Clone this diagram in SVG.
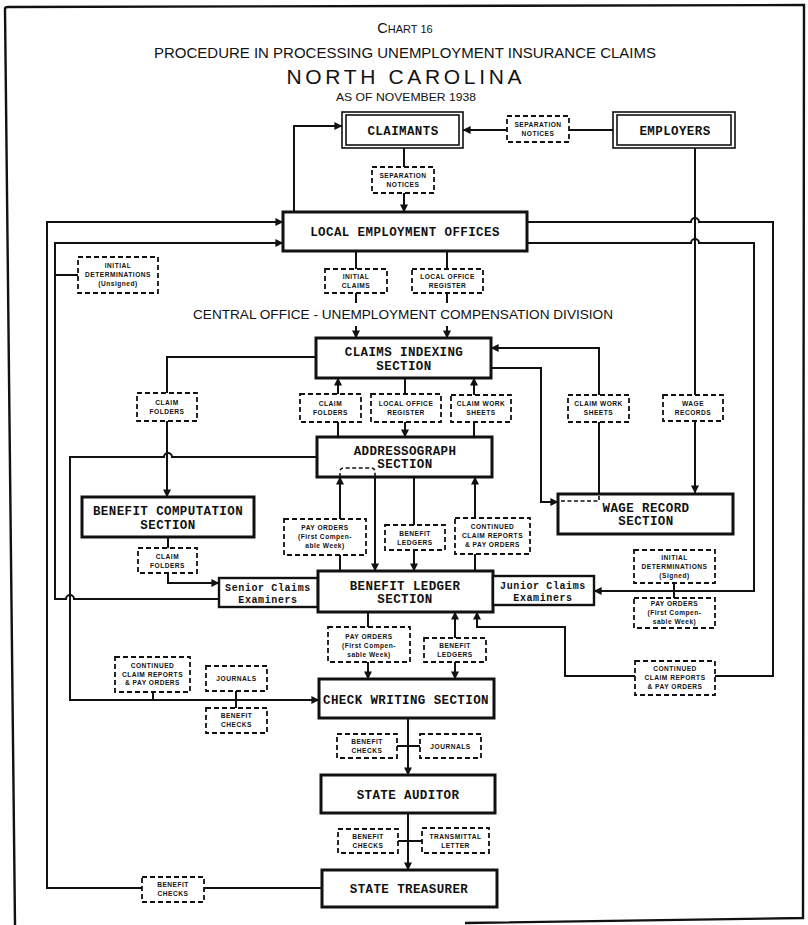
<svg xmlns="http://www.w3.org/2000/svg" width="808" height="925" viewBox="0 0 808 925">
<style>
.bg{fill:#fff}
.frame{fill:none;stroke:#111;stroke-width:2.4}
.ttl{font-family:"Liberation Sans","DejaVu Sans",sans-serif;fill:#111;text-anchor:middle}
.c{fill:none;stroke:#111;stroke-width:2}
.cd{fill:none;stroke:#111;stroke-width:1.6;stroke-dasharray:4 2.5}
.nb{fill:#fff;stroke:#111;stroke-width:3}
.db{fill:#fff;stroke:#111;stroke-width:1.6}
.nt{font-family:"Liberation Mono","DejaVu Sans Mono",monospace;font-weight:bold;font-size:12.5px;letter-spacing:0.4px;fill:#111;text-anchor:middle}
.st{font-family:"Liberation Mono","DejaVu Sans Mono",monospace;font-weight:bold;font-size:10px;letter-spacing:0.6px;fill:#111;text-anchor:middle}
.lbx{fill:#fff;stroke:#111;stroke-width:1.8;stroke-dasharray:5 3}
.lb{font-family:"Liberation Sans","DejaVu Sans",sans-serif;font-weight:bold;font-size:6.6px;letter-spacing:0.5px;fill:#111;text-anchor:middle}
</style>
<defs>
<marker id="ah" viewBox="0 0 10 10" refX="9.5" refY="5" markerWidth="9" markerHeight="8" markerUnits="userSpaceOnUse" orient="auto"><path d="M0,0 L10,5 L0,10 z" fill="#111"/></marker>
</defs>
<rect class="bg" x="0" y="0" width="808" height="925"/>
<g id="page-frame">
<path class="frame" d="M15,925 L5,9 Q5,7 8,7 L804,5 L803,918 L465,923"/>
</g>
<g id="title">
<text class="ttl" x="405" y="33" font-size="11"><tspan font-size="14.5">C</tspan>HART 16</text>
<text class="ttl" x="405" y="58" font-size="15" textLength="502" lengthAdjust="spacingAndGlyphs">PROCEDURE IN PROCESSING UNEMPLOYMENT INSURANCE CLAIMS</text>
<text class="ttl" x="404" y="84" font-size="21" textLength="235" lengthAdjust="spacing">NORTH CAROLINA</text>
<text class="ttl" x="406" y="101" font-size="10.5" textLength="140" lengthAdjust="spacingAndGlyphs">AS OF NOVEMBER 1938</text>
<text class="ttl" x="403" y="319" font-size="13" textLength="420" lengthAdjust="spacingAndGlyphs">CENTRAL OFFICE - UNEMPLOYMENT COMPENSATION DIVISION</text>
</g>
<g id="connectors">
<path class="c" d="M613,130 H463" marker-end="url(#ah)"/>
<path class="c" d="M404,147 V212" marker-end="url(#ah)"/>
<path class="c" d="M322,888 H47 V222 H283" marker-end="url(#ah)"/>
<path class="c" d="M294,212 V126 H342" marker-end="url(#ah)"/>
<path class="c" d="M219,599 H74 A4,4 0 0 0 66,599 H55 V243 H283" marker-end="url(#ah)"/>
<path class="c" d="M55,275 H78"/>
<path class="c" d="M356,252 V303"/>
<path class="c" d="M356,326 V338" marker-end="url(#ah)"/>
<path class="c" d="M447,252 V303"/>
<path class="c" d="M447,326 V338" marker-end="url(#ah)"/>
<path class="c" d="M316,357 H167 V497" marker-end="url(#ah)"/>
<path class="c" d="M317,457 H172 A4,4 0 0 0 164,457 H70 V700 H319" marker-end="url(#ah)"/>
<path class="c" d="M168,537 V583 H219" marker-end="url(#ah)"/>
<path class="c" d="M338,437 V378" marker-end="url(#ah)"/>
<path class="c" d="M405,378 V437" marker-end="url(#ah)"/>
<path class="c" d="M474,437 V378" marker-end="url(#ah)"/>
<path class="c" d="M491,368 H541 V502 H558" marker-end="url(#ah)"/>
<path class="c" d="M599,495 V348 H491" marker-end="url(#ah)"/>
<path class="c" d="M695,148 V493" marker-end="url(#ah)"/>
<path class="c" d="M527,222 H691 A4,4 0 0 1 699,222 H773 V676 H565 V627 H477 V612" marker-end="url(#ah)"/>
<path class="c" d="M527,243 H691 A4,4 0 0 1 699,243 H754 V591 H594" marker-end="url(#ah)"/>
<path class="c" d="M674,583 V598"/>
<path class="c" d="M340,571 V477" marker-end="url(#ah)"/>
<path class="c" d="M375,477 V571" marker-end="url(#ah)"/>
<path class="c" d="M414,477 V571" marker-end="url(#ah)"/>
<path class="c" d="M475,571 V477" marker-end="url(#ah)"/>
<path class="c" d="M368,612 V679" marker-end="url(#ah)"/>
<path class="c" d="M455,638 V612" marker-end="url(#ah)"/>
<path class="c" d="M455,662 V679" marker-end="url(#ah)"/>
<path class="c" d="M153,692 V700"/>
<path class="c" d="M236,691 V708"/>
<path class="c" d="M408,718 V775" marker-end="url(#ah)"/>
<path class="c" d="M397,746 H420"/>
<path class="c" d="M408,813 V870" marker-end="url(#ah)"/>
<path class="c" d="M398,841 H422"/>
</g>
<g id="claimants">
<rect class="db" x="342" y="112" width="121" height="36"/>
<rect class="db" x="346" y="115" width="113" height="30"/>
<text class="nt" x="403" y="134.5">CLAIMANTS</text>
</g>
<g id="employers">
<rect class="db" x="613" y="112" width="122" height="36"/>
<rect class="db" x="617" y="115" width="114" height="30"/>
<text class="nt" x="675" y="134.5">EMPLOYERS</text>
</g>
<g id="local-employment-offices">
<rect class="nb" x="283" y="212" width="244" height="39"/>
<text class="nt" x="405" y="236">LOCAL EMPLOYMENT OFFICES</text>
</g>
<g id="claims-indexing-section">
<rect class="nb" x="316" y="338" width="175" height="40"/>
<text class="nt" x="404" y="356">CLAIMS INDEXING</text>
<text class="nt" x="404" y="370">SECTION</text>
</g>
<g id="addressograph-section">
<rect class="nb" x="317" y="437" width="175" height="40"/>
<path class="cd" d="M340,477 V472 Q340,468 344,468 H371 Q375,468 375,472 V477"/>
<text class="nt" x="405" y="455">ADDRESSOGRAPH</text>
<text class="nt" x="405" y="468">SECTION</text>
</g>
<g id="benefit-computation-section">
<rect class="nb" x="82" y="497" width="172" height="40"/>
<text class="nt" x="168" y="515">BENEFIT COMPUTATION</text>
<text class="nt" x="168" y="529">SECTION</text>
</g>
<g id="wage-record-section">
<rect class="nb" x="558" y="494" width="175" height="40"/>
<path class="cd" d="M561,501 H599 V495"/>
<text class="nt" x="646" y="512">WAGE RECORD</text>
<text class="nt" x="646" y="525">SECTION</text>
</g>
<g id="senior-claims-examiners">
<rect class="nb" x="219" y="578" width="99" height="29" style="stroke-width:2.4"/>
<text class="st" x="268" y="590.5">Senior Claims</text>
<text class="st" x="268" y="602.5">Examiners</text>
</g>
<g id="benefit-ledger-section">
<rect class="nb" x="318" y="571" width="175" height="41"/>
<text class="nt" x="405" y="590">BENEFIT LEDGER</text>
<text class="nt" x="405" y="603">SECTION</text>
</g>
<g id="junior-claims-examiners">
<rect class="nb" x="493" y="576" width="101" height="29" style="stroke-width:2.4"/>
<text class="st" x="543" y="589">Junior Claims</text>
<text class="st" x="543" y="601">Examiners</text>
</g>
<g id="check-writing-section">
<rect class="nb" x="319" y="679" width="175" height="39"/>
<text class="nt" x="406" y="704">CHECK WRITING SECTION</text>
</g>
<g id="state-auditor">
<rect class="nb" x="321" y="775" width="174" height="38"/>
<text class="nt" x="408" y="799">STATE AUDITOR</text>
</g>
<g id="state-treasurer">
<rect class="nb" x="322" y="870" width="175" height="37"/>
<text class="nt" x="409" y="893">STATE TREASURER</text>
</g>
<g id="labels">
<g id="lb-sep-top"><rect class="lbx" x="507" y="116" width="62" height="26"/><text class="lb" x="538" y="127.3">SEPARATION</text><text class="lb" x="538" y="136.3">NOTICES</text></g>
<g id="lb-sep-mid"><rect class="lbx" x="372" y="167" width="62" height="26"/><text class="lb" x="403" y="178.3">SEPARATION</text><text class="lb" x="403" y="187.3">NOTICES</text></g>
<g id="lb-initdet-unsigned"><rect class="lbx" x="78" y="257" width="80" height="36"/><text class="lb" x="118" y="268.3">INITIAL</text><text class="lb" x="118" y="277.3">DETERMINATIONS</text><text class="lb" x="118" y="286.3">(Unsigned)</text></g>
<g id="lb-initial-claims"><rect class="lbx" x="325" y="269" width="62" height="24"/><text class="lb" x="356" y="279.3">INITIAL</text><text class="lb" x="356" y="288.3">CLAIMS</text></g>
<g id="lb-lor-top"><rect class="lbx" x="412" y="269" width="71" height="24"/><text class="lb" x="447.5" y="279.3">LOCAL OFFICE</text><text class="lb" x="447.5" y="288.3">REGISTER</text></g>
<g id="lb-cf-left"><rect class="lbx" x="137" y="393" width="60" height="28"/><text class="lb" x="167" y="405.3">CLAIM</text><text class="lb" x="167" y="414.3">FOLDERS</text></g>
<g id="lb-cf-mid"><rect class="lbx" x="300" y="394" width="61" height="28"/><text class="lb" x="330.5" y="406.3">CLAIM</text><text class="lb" x="330.5" y="415.3">FOLDERS</text></g>
<g id="lb-lor-mid"><rect class="lbx" x="371" y="394" width="70" height="28"/><text class="lb" x="406" y="406.3">LOCAL OFFICE</text><text class="lb" x="406" y="415.3">REGISTER</text></g>
<g id="lb-cws-mid"><rect class="lbx" x="451" y="395" width="60" height="27"/><text class="lb" x="481" y="406.3">CLAIM WORK</text><text class="lb" x="481" y="415.3">SHEETS</text></g>
<g id="lb-cws-right"><rect class="lbx" x="568" y="395" width="61" height="27"/><text class="lb" x="598.5" y="406.3">CLAIM WORK</text><text class="lb" x="598.5" y="415.3">SHEETS</text></g>
<g id="lb-wage-records"><rect class="lbx" x="663" y="395" width="60" height="26"/><text class="lb" x="693" y="406.3">WAGE</text><text class="lb" x="693" y="415.3">RECORDS</text></g>
<g id="lb-payorders-up"><rect class="lbx" x="284" y="519" width="82" height="36"/><text class="lb" x="325" y="530.3">PAY ORDERS</text><text class="lb" x="325" y="539.3">(First Compen-</text><text class="lb" x="325" y="548.3">able Week)</text></g>
<g id="lb-ledgers-up"><rect class="lbx" x="385" y="525" width="60" height="25"/><text class="lb" x="415" y="535.8">BENEFIT</text><text class="lb" x="415" y="544.8">LEDGERS</text></g>
<g id="lb-ccr-up"><rect class="lbx" x="455" y="518" width="75" height="36"/><text class="lb" x="492.5" y="529.3">CONTINUED</text><text class="lb" x="492.5" y="538.3">CLAIM REPORTS</text><text class="lb" x="492.5" y="547.3">&amp; PAY ORDERS</text></g>
<g id="lb-cf-bc"><rect class="lbx" x="138" y="548" width="59" height="25"/><text class="lb" x="167.5" y="558.8">CLAIM</text><text class="lb" x="167.5" y="567.8">FOLDERS</text></g>
<g id="lb-initdet-signed"><rect class="lbx" x="634" y="550" width="81" height="33"/><text class="lb" x="674.5" y="560.3">INITIAL</text><text class="lb" x="674.5" y="569.3">DETERMINATIONS</text><text class="lb" x="674.5" y="578.3">(Signed)</text></g>
<g id="lb-payorders-right"><rect class="lbx" x="634" y="598" width="81" height="30"/><text class="lb" x="674.5" y="606.3">PAY ORDERS</text><text class="lb" x="674.5" y="615.3">(First Compen-</text><text class="lb" x="674.5" y="624.3">sable Week)</text></g>
<g id="lb-payorders-down"><rect class="lbx" x="328" y="627" width="82" height="35"/><text class="lb" x="369" y="639.3">PAY ORDERS</text><text class="lb" x="369" y="648.3">(First Compen-</text><text class="lb" x="369" y="657">sable Week)</text></g>
<g id="lb-ledgers-down"><rect class="lbx" x="424" y="638" width="62" height="24"/><text class="lb" x="455" y="648.3">BENEFIT</text><text class="lb" x="455" y="657.3">LEDGERS</text></g>
<g id="lb-ccr-left"><rect class="lbx" x="115" y="657" width="75" height="35"/><text class="lb" x="152.5" y="668.3">CONTINUED</text><text class="lb" x="152.5" y="676.8">CLAIM REPORTS</text><text class="lb" x="152.5" y="685.3">&amp; PAY ORDERS</text></g>
<g id="lb-journals-left"><rect class="lbx" x="206" y="666" width="61" height="25"/><text class="lb" x="236.5" y="680.5">JOURNALS</text></g>
<g id="lb-checks-left"><rect class="lbx" x="206" y="708" width="61" height="25"/><text class="lb" x="236.5" y="718.3">BENEFIT</text><text class="lb" x="236.5" y="727.3">CHECKS</text></g>
<g id="lb-ccr-right"><rect class="lbx" x="635" y="661" width="80" height="34"/><text class="lb" x="675" y="671.3">CONTINUED</text><text class="lb" x="675" y="680.3">CLAIM REPORTS</text><text class="lb" x="675" y="689.3">&amp; PAY ORDERS</text></g>
<g id="lb-checks-cw"><rect class="lbx" x="337" y="734" width="60" height="24"/><text class="lb" x="367" y="744.3">BENEFIT</text><text class="lb" x="367" y="753.3">CHECKS</text></g>
<g id="lb-journals-right"><rect class="lbx" x="420" y="734" width="61" height="24"/><text class="lb" x="450.5" y="748.5">JOURNALS</text></g>
<g id="lb-checks-sa"><rect class="lbx" x="338" y="829" width="60" height="24"/><text class="lb" x="368" y="839.3">BENEFIT</text><text class="lb" x="368" y="848.3">CHECKS</text></g>
<g id="lb-transmittal"><rect class="lbx" x="422" y="828" width="67" height="25"/><text class="lb" x="455.5" y="838.8">TRANSMITTAL</text><text class="lb" x="455.5" y="847.8">LETTER</text></g>
<g id="lb-checks-bottom"><rect class="lbx" x="142" y="877" width="62" height="25"/><text class="lb" x="173" y="887.3">BENEFIT</text><text class="lb" x="173" y="896.3">CHECKS</text></g>
</g>
</svg>
